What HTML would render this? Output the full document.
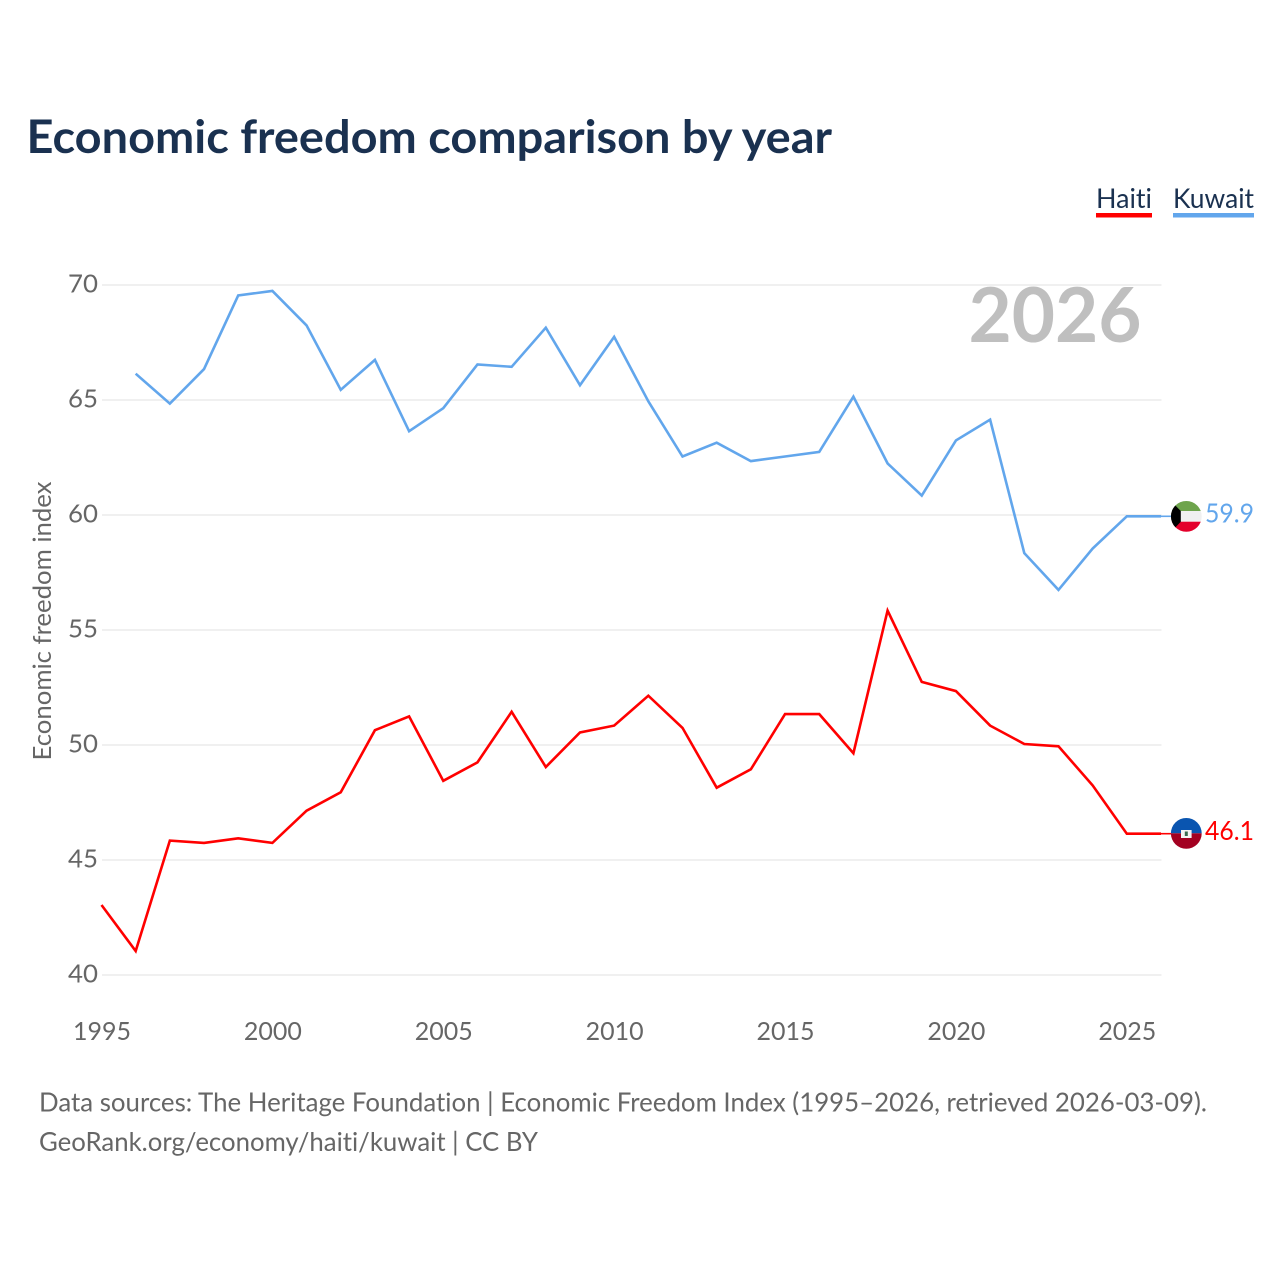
<!DOCTYPE html>
<html lang="en">
<head>
<meta charset="utf-8">
<title>Economic freedom comparison by year</title>
<style>
html,body{margin:0;padding:0;background:#fff;}
svg{display:block;font-family:"Lato","Carlito","Liberation Sans",sans-serif;font-variant-ligatures:none;font-feature-settings:"liga" 0,"clig" 0;}
</style>
</head>
<body>
<svg id="chart" width="1280" height="1280" viewBox="0 0 1280 1280" xmlns="http://www.w3.org/2000/svg">
<defs>
<clipPath id="kw-clip"><circle cx="1186.3" cy="516.4" r="15.4"/></clipPath>
<clipPath id="ht-clip"><circle cx="1186.3" cy="833.4" r="15.4"/></clipPath>
</defs>
<rect width="1280" height="1280" fill="#fff"/>
<text x="26.5" y="153" font-size="46" font-weight="700" fill="#1a3150" textLength="805.5" lengthAdjust="spacingAndGlyphs">Economic freedom comparison by year</text>
<g>
<g>
<text x="1096" y="208" font-size="27" fill="#1a3150" textLength="56" lengthAdjust="spacingAndGlyphs">Haiti</text>
<rect x="1096" y="213" width="56" height="4.5" fill="#ff0000"/>
</g>
<g>
<text x="1173" y="208" font-size="27" fill="#1a3150" textLength="81" lengthAdjust="spacingAndGlyphs">Kuwait</text>
<rect x="1173" y="213" width="81" height="4.5" fill="#62a6ec"/>
</g>
</g>
<g id="grid"></g>
<g id="y-ticks"></g>
<g id="x-ticks"></g>
<text transform="translate(51 621) rotate(-90)" text-anchor="middle" font-size="25" fill="#666" textLength="279" lengthAdjust="spacingAndGlyphs">Economic freedom index</text>
<text x="1141.5" y="342" text-anchor="end" font-size="76" font-weight="700" fill="#bfbfbf" textLength="173" lengthAdjust="spacingAndGlyphs">2026</text>
<g id="series"></g>
<g clip-path="url(#kw-clip)">
<rect x="1170" y="500" width="33" height="11" fill="#6ea44c"/>
<rect x="1170" y="511" width="33" height="10.7" fill="#f0f0f0"/>
<rect x="1170" y="521.7" width="33" height="11" fill="#e4002b"/>
<polygon points="1170.9,501 1180.8,511 1180.8,521.7 1170.9,532" fill="#000"/>
</g>
<g clip-path="url(#ht-clip)">
<rect x="1170" y="817" width="33" height="16.3" fill="#0a55b0"/>
<rect x="1170" y="833.3" width="33" height="16.7" fill="#a30021"/>
<rect x="1181" y="830" width="10.6" height="8" fill="#f4f4f4"/>
<rect x="1184.8" y="831.5" width="3" height="4.5" fill="#3a6a50"/>
</g>
<text id="label-kuwait" x="1205" y="522.5" font-size="26" fill="#62a6ec" textLength="49" lengthAdjust="spacingAndGlyphs"></text>
<text id="label-haiti" x="1205" y="840" font-size="26" fill="#ff0000" textLength="49" lengthAdjust="spacingAndGlyphs"></text>
<text x="39" y="1111.5" font-size="26" fill="#666" textLength="1168" lengthAdjust="spacingAndGlyphs">Data sources: The Heritage Foundation | Economic Freedom Index (1995–2026, retrieved 2026-03-09).</text>
<text x="39" y="1151" font-size="26" fill="#666" textLength="499" lengthAdjust="spacingAndGlyphs">GeoRank.org/economy/haiti/kuwait | CC BY</text>
</svg>
<script>
const years = [1995,1996,1997,1998,1999,2000,2001,2002,2003,2004,2005,2006,2007,2008,2009,2010,2011,2012,2013,2014,2015,2016,2017,2018,2019,2020,2021,2022,2023,2024,2025,2026];
const haitiValues = [43,41,45.8,45.7,45.9,45.7,47.1,47.9,50.6,51.2,48.4,49.2,51.4,49,50.5,50.8,52.1,50.7,48.1,48.9,51.3,51.3,49.6,55.8,52.7,52.3,50.8,50,49.9,48.2,46.1,46.1];
const kuwaitValues = [null,66.1,64.8,66.3,69.5,69.7,68.2,65.4,66.7,63.6,64.6,66.5,66.4,68.1,65.6,67.7,64.9,62.5,63.1,62.3,62.5,62.7,65.1,62.2,60.8,63.2,64.1,58.3,56.7,58.5,59.9,59.9];
const yTickLabels = [40,45,50,55,60,65,70];
const xTickLabels = [1995,2000,2005,2010,2015,2020,2025];

const NS = 'http://www.w3.org/2000/svg';
function xScale(year){ return 101.5 + (year - 1995) * (1161 - 101.5) / (2026 - 1995); }
function yScale(value){ return 974 - (value - 40) * 690 / (70 - 40); }
function make(tag, attrs, parent){
  const el = document.createElementNS(NS, tag);
  for (const k in attrs) el.setAttribute(k, attrs[k]);
  parent.appendChild(el);
  return el;
}
const gridGroup = document.getElementById('grid');


const yGroup = document.getElementById('y-ticks');


const xGroup = document.getElementById('x-ticks');


const seriesGroup = document.getElementById('series');



yTickLabels.forEach(function(v){
  const gy = yScale(v) + 1;
  const line = make('line', {x1:102, x2:1161.5, y1:gy, y2:gy, stroke:'#ebebeb', 'stroke-width':1.6}, gridGroup);
  
  
  const t = make('text', {x:98, y:gy+7.5, 'text-anchor':'end', 'font-size':25, fill:'#666', textLength:30, lengthAdjust:'spacingAndGlyphs'}, yGroup);
  t.textContent = v;
  
  
});
xTickLabels.forEach(function(y){
  const t = make('text', {x:xScale(y)+0.5, y:1040, 'text-anchor':'middle', 'font-size':25, fill:'#666', textLength:58, lengthAdjust:'spacingAndGlyphs'}, xGroup);
  t.textContent = y;
  
  
});
function drawSeries(values, color, name){
  const pts = [];
  values.forEach(function(v, i){
    if (v !== null) pts.push(xScale(years[i]).toFixed(2) + ',' + yScale(v).toFixed(2));
  });
  const lastY = yScale(values[values.length - 1]);
  const line = make('polyline', {points:pts.join(' '), fill:'none', stroke:color, 'stroke-width':2.6, 'stroke-linejoin':'miter'}, seriesGroup);
  
  
  const stub = make('line', {x1:xScale(2026), x2:1171, y1:lastY, y2:lastY, stroke:color, 'stroke-width':1.6}, seriesGroup);
  
  
}
drawSeries(kuwaitValues, '#62a6ec', 'series-line-kuwait');
drawSeries(haitiValues, '#ff0000', 'series-line-haiti');
document.getElementById('label-kuwait').textContent = kuwaitValues[kuwaitValues.length - 1].toFixed(1);
document.getElementById('label-haiti').textContent = haitiValues[haitiValues.length - 1].toFixed(1);
</script>
</body>
</html>
